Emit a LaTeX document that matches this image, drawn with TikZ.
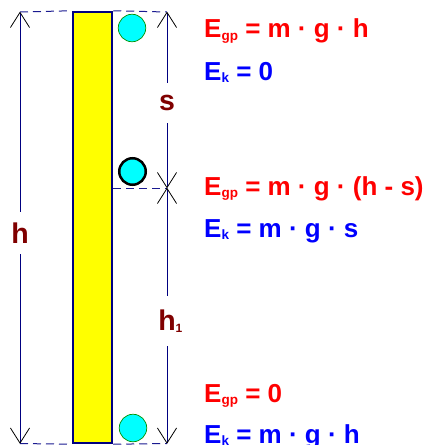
\documentclass[tikz,border=0pt]{standalone}
\usepackage{fontspec}
\setmainfont{Liberation Sans}
\usetikzlibrary{arrows.meta}
\definecolor{navyline}{HTML}{000080}
\definecolor{dashblue}{HTML}{1A1A90}
\definecolor{labred}{HTML}{800000}
\definecolor{eqred}{HTML}{FF0000}
\definecolor{eqblue}{HTML}{0000FF}
\definecolor{ballcyan}{HTML}{00FFFF}
\definecolor{ballgreen}{HTML}{009000}
\definecolor{pillaryellow}{HTML}{FFFF00}
\newcommand{\Esub}[1]{E\raisebox{-2.5pt}{\fontsize{13.5}{13.5}\selectfont #1}}
\begin{document}
\begin{tikzpicture}[x=1pt,y=-1pt,
  pillar/.style={rectangle, draw=navyline, fill=pillaryellow, line width=2.5pt,
    minimum width=39pt, minimum height=431pt, inner sep=0pt},
  ball/.style={circle, fill=ballcyan, minimum size=27.5pt, inner sep=0pt},
  guide/.style={draw=dashblue, line width=1pt, dash pattern=on 8pt off 5pt},
  dim/.style={draw=navyline, line width=0.9pt,
    {Straight Barb[length=15pt,width=19pt,line width=0.8pt,color=black,round]}-{Straight Barb[length=15pt,width=19pt,line width=0.8pt,color=black,round]}},
  dimlabel/.style={fill=white, text=labred, inner xsep=1pt, inner ysep=0pt,
    font=\bfseries\fontsize{28.5}{28.5}\selectfont},
  eq/.style={anchor=base west, inner sep=0pt, font=\bfseries\fontsize{26}{26}\selectfont}
]
\useasboundingbox (0,0) rectangle (427,445);
% reference points of the dimension lines
\coordinate (lt) at (20,12);
\coordinate (lb) at (20,443.5);
\coordinate (rt) at (167,12);
\coordinate (rm) at (167,188);
\coordinate (rb) at (167,443.5);
% pillar
\node[pillar] (pillar) at (92.5,227.5) {};
% dashed guide lines
\draw[guide] (lt) -- (pillar.north west);
\draw[guide] (pillar.north east) -- (rt);
\draw[guide] (pillar.east |- rm) -- (rm);
\draw[guide] (lb) -- (pillar.south west);
\draw[guide] (pillar.south east) -- (rb);
% balls
\node[ball, draw=ballgreen, line width=0.7pt] (b1) at (132,28) {};
\node[ball, draw=black, line width=2.5pt, minimum size=26.5pt] (b2) at (132.5,171.5) {};
\node[ball, draw=ballgreen, line width=0.7pt] (b3) at (133,428) {};
% dimension lines
\draw[dim] (lt) -- (lb);
\draw[dim] (rt) -- (rm);
\draw[dim] (rm) -- (rb);
% dimension labels
\node[dimlabel, minimum height=42pt] (hl) at (20,233) {h};
\node[dimlabel, minimum height=40pt] (sl) at (167,103) {s};
\node[dimlabel, minimum height=50pt] (h1l) at (167,321) {h\rlap{\raisebox{-1.5pt}{\fontsize{12}{12}\selectfont 1}}};
% energy equations
\node[eq, text=eqred] (e1) at (204,37.5) {\Esub{gp} = m · g · h};
\node[eq, text=eqblue] (e2) at (204,80) {\Esub{k} = 0};
\node[eq, text=eqred] (e3) at (204,195) {\Esub{gp} = m · g · (h - s)};
\node[eq, text=eqblue] (e4) at (204,237) {\Esub{k} = m · g · s};
\node[eq, text=eqred] (e5) at (204,402) {\Esub{gp} = 0};
\node[eq, text=eqblue] (e6) at (204,443) {\Esub{k} = m · g · h};
\end{tikzpicture}
\end{document}
